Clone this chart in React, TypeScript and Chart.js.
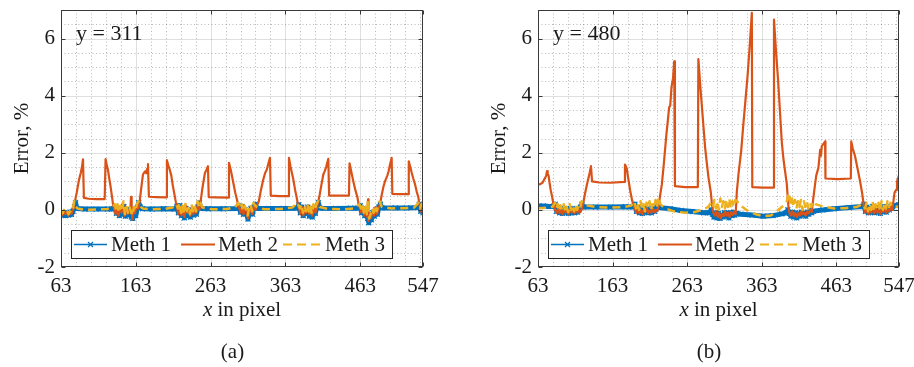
import React, { useEffect, useRef } from 'react';
import { Chart, registerables } from 'chart.js';
Chart.register(...registerables);

// ---------- axes ----------
const X_MIN = 63;
const X_MAX = 547;
const Y_MIN = -2;
const Y_MAX = 7;
const X_TICKS = [63, 163, 263, 363, 463, 547];
const Y_TICKS = [-2, 0, 2, 4, 6];
const X_MINOR = [83, 103, 123, 143, 183, 203, 223, 243, 283, 303, 323, 343, 383, 403, 423, 443, 483, 503, 523, 543];
const Y_MINOR = [-1.5, -1, -0.5, 0.5, 1, 1.5, 2.5, 3, 3.5, 4.5, 5, 5.5, 6.5];
const SERIES_NAMES = ['Meth 1', 'Meth 2', 'Meth 3'];
const COLORS = ['#0072BD', '#D95319', '#EDB120'];

// ---------- panel (a): y = 311 ----------
const A_METH1: [number, number][] = [
  [63, -0.12], [65, -0.18], [67, -0.1], [69, -0.2], [71, -0.12], [73, -0.18], [75, -0.08], [77, -0.16], [79, -0.05], [81, 0.1], [82.5, 0.25], [84, 0.05],
  [95, 0.03], [110, 0.03], [125, 0.03], [133, 0.04], [135.5, 0.1],
  [137, -0.12], [139, 0.05], [141, -0.2], [143, 0.0], [145, -0.15], [147, 0.12], [149, -0.22], [151, -0.05], [153, -0.18], [155, 0.02], [157, -0.25], [159, -0.3], [161, -0.08], [163, -0.2], [165, 0.08], [167, 0.25], [169, 0.1],
  [172, 0.04], [185, 0.03], [200, 0.04], [215, 0.03], [218, 0.12],
  [220, -0.1], [222, 0.15], [224, -0.2], [226, -0.05], [228, -0.28], [230, 0.05], [232, -0.2], [234, -0.05], [236, -0.25], [238, 0.0], [240, -0.18], [242, -0.02], [244, -0.15], [246, 0.1], [248, 0.25], [250, 0.05],
  [260, 0.04], [280, 0.04], [298, 0.05], [301, 0.15],
  [303, -0.08], [305, 0.12], [307, -0.15], [309, 0.0], [311, -0.12], [313, -0.32], [315, -0.1], [317, 0.05], [319, -0.15], [321, 0.1], [323, 0.2], [325, 0.05],
  [340, 0.05], [360, 0.05], [378, 0.06], [381, 0.18],
  [383, -0.1], [385, 0.1], [387, -0.2], [389, 0.0], [391, -0.12], [393, 0.1], [395, -0.22], [397, -0.05], [399, -0.25], [401, 0.05], [403, -0.12], [405, 0.1], [407, 0.25], [409, 0.06],
  [430, 0.05], [450, 0.06], [460, 0.06], [463, 0.15],
  [465, -0.1], [467, 0.05], [469, -0.2], [471, -0.05], [473, -0.3], [474.5, -0.45], [476, -0.2], [478, -0.35], [480, -0.1], [482, -0.22], [484, 0.0], [486, -0.15], [488, 0.1], [490, 0.2], [492, 0.07],
  [510, 0.07], [525, 0.07], [540, 0.08], [542, 0.2], [544, -0.05], [546, 0.1], [547, -0.1],
];
const A_METH2: [number, number][] = [
  [63, -0.1], [65, -0.18], [67, -0.05], [69, -0.15], [71, -0.08], [73, -0.2], [75, -0.1], [77, -0.14], [79, 0.0],
  [80.5, 0.15], [82, 0.35], [84, 0.6], [86.7, 1.0], [88, 1.15], [89.5, 1.3], [91, 1.5], [92.4, 1.77], [93.6, 0.42], [100, 0.39], [110, 0.38], [121.4, 0.38],
  [122.6, 1.78], [124, 1.6], [125.8, 1.4], [127.5, 1.1], [129.4, 0.8], [131, 0.5], [132.5, 0.2], [134, 0.05],
  [136, -0.15], [138, 0.05], [140, -0.2], [142, 0.1], [144, -0.1], [146, 0.2], [148, -0.2], [150, 0.05], [152, -0.15], [154, 0.0], [155.5, -0.1], [156.6, 0.46], [157.5, -0.05], [158.5, -0.33], [160, 0.05], [162, -0.12], [164, 0.15], [166, 0.05],
  [168.2, 0.3], [170, 0.7], [172.6, 1.24], [174, 1.3], [175.7, 1.35], [177, 1.28], [178.3, 1.45], [179.3, 1.6], [180.5, 0.46], [190, 0.45], [203.5, 0.44],
  [204.6, 1.74], [206.5, 1.55], [208.5, 1.4], [210.5, 1.2], [212.5, 0.85], [215, 0.5], [217, 0.2], [218.5, 0.05],
  [220, -0.15], [222, 0.1], [224, -0.2], [226, 0.05], [228, -0.25], [230, 0.15], [232, -0.1], [234, 0.0], [236, -0.2], [238, 0.1], [240, -0.15], [242, 0.05], [244, -0.1], [246, 0.2], [248, 0.0],
  [249.8, 0.31], [252, 0.75], [255.5, 1.3], [257.5, 1.4], [259.5, 1.53], [260.5, 0.45], [270, 0.44], [286.7, 0.43],
  [287.6, 1.65], [290, 1.4], [293.4, 0.95], [296, 0.6], [297.9, 0.4], [300, 0.15], [301.5, 0.05],
  [303, -0.1], [305, 0.1], [307, -0.15], [309, 0.05], [311, -0.05], [313, -0.3], [315, -0.1], [317, 0.1], [319, -0.15], [321, 0.15], [323, 0.0],
  [325, 0.15], [327.5, 0.3], [330, 0.65], [333.5, 1.07], [336, 1.3], [338, 1.4], [340, 1.6], [342.4, 1.82], [343.5, 0.5], [355, 0.48], [366.9, 0.48],
  [367.8, 1.82], [370, 1.5], [373.6, 1.07], [376, 0.7], [378, 0.45], [380, 0.15], [381.6, 0.05],
  [383, -0.15], [385, 0.1], [387, -0.2], [389, 0.05], [391, -0.1], [393, 0.15], [395, -0.15], [397, 0.0], [399, -0.2], [401, 0.1], [403, -0.1], [405, 0.05],
  [407, 0.3], [409, 0.55], [411, 0.85], [413.7, 1.24], [415.5, 1.35], [417.5, 1.5], [420.4, 1.79], [421.5, 0.5], [435, 0.5], [448, 0.5],
  [448.8, 1.63], [451, 1.35], [453.8, 1.0], [456.5, 0.7], [459.2, 0.45], [461, 0.2], [462.8, 0.05],
  [464.5, -0.1], [466.5, 0.1], [468.5, -0.2], [470.5, 0.05], [472.5, -0.25], [473.5, 0.37], [474.2, -0.39], [475.5, -0.1], [477.5, -0.3], [479.5, 0.0], [481.5, -0.2], [483.5, 0.1], [485.5, -0.15], [487.5, 0.05],
  [489.5, 0.2], [492, 0.55], [494, 0.8], [496.2, 1.0], [499.3, 1.2], [501, 1.35], [502.9, 1.59], [505.1, 1.82], [506, 0.56], [515, 0.55], [527.3, 0.55],
  [528, 1.7], [530, 1.5], [531.9, 1.3], [534, 1.1], [536.3, 0.9], [538.5, 0.65], [540.7, 0.45], [542.5, 0.15], [544, -0.05], [546, 0.05], [547, -0.1],
];
const A_METH3: [number, number][] = [
  [63, -0.05], [65, -0.12], [67, 0.0], [69, -0.1], [71, -0.02], [73, -0.15], [75, -0.05], [77, -0.1], [79, 0.05], [80.5, 0.3], [82, 0.15], [85, 0.05],
  [95, 0.0], [110, 0.01], [125, 0.03], [132, 0.1], [135, 0.2],
  [136.5, 0.0], [138.5, 0.2], [140.5, -0.1], [142.5, 0.15], [144.5, -0.05], [146.5, 0.3], [148.5, -0.15], [150.5, 0.1], [152.5, -0.1], [154.5, 0.1], [156.5, -0.05], [158.5, -0.2], [160.5, 0.1], [162.5, -0.05], [164.5, 0.2], [166.5, 0.3], [168, 0.15],
  [172, 0.05], [185, 0.02], [200, 0.03], [212, 0.08], [217, 0.2],
  [219.5, 0.05], [221.5, 0.25], [223.5, -0.1], [225.5, 0.15], [227.5, -0.15], [229.5, 0.25], [231.5, -0.05], [233.5, 0.1], [235.5, -0.15], [237.5, 0.2], [239.5, -0.05], [241.5, 0.15], [243.5, -0.05], [245.5, 0.3], [247.5, 0.1], [249.5, 0.25],
  [252, 0.08], [265, 0.02], [285, 0.03], [296, 0.1], [300, 0.25],
  [302.5, 0.05], [304.5, 0.2], [306.5, -0.05], [308.5, 0.15], [310.5, 0.0], [312.5, -0.2], [314.5, 0.05], [316.5, 0.2], [318.5, -0.05], [320.5, 0.25], [322.5, 0.15],
  [325, 0.1], [335, 0.02], [355, 0.03], [372, 0.08], [379, 0.25],
  [382.5, 0.05], [384.5, 0.2], [386.5, -0.1], [388.5, 0.15], [390.5, -0.05], [392.5, 0.2], [394.5, -0.1], [396.5, 0.1], [398.5, -0.15], [400.5, 0.2], [402.5, 0.0], [404.5, 0.2], [406.5, 0.3],
  [409, 0.1], [420, 0.03], [440, 0.02], [455, 0.05], [462, 0.2],
  [464, 0.05], [466, 0.2], [468, -0.1], [470, 0.1], [472, -0.15], [473.5, 0.35], [475, -0.3], [477, -0.15], [479, 0.05], [481, -0.1], [483, 0.15], [485, -0.05], [487, 0.15], [489, 0.3],
  [492, 0.1], [505, 0.05], [520, 0.06], [535, 0.08], [541, 0.25], [543, 0.05], [545, 0.2], [547, -0.05],
];

// ---------- panel (b): y = 480 ----------
const B_METH1: [number, number][] = [
  [63, 0.13], [70, 0.14], [78, 0.12], [84, 0.13], [86, 0.2],
  [88, -0.05], [90, 0.1], [92, -0.1], [94, 0.02], [96, -0.12], [98, 0.05], [100, -0.08], [102, 0.0], [104, -0.12], [106, 0.05], [108, -0.1], [110, 0.02], [112, -0.1], [114, 0.05], [116, -0.08], [118, 0.02], [120, 0.1], [122, 0.2],
  [124, 0.1], [140, 0.1], [160, 0.1], [180, 0.11], [190, 0.1], [193, 0.2],
  [195, -0.05], [197, 0.1], [199, -0.1], [201, 0.05], [203, -0.12], [205, 0.02], [207, -0.08], [209, 0.05], [211, -0.1], [213, 0.0], [215, -0.1], [217, 0.05], [219, -0.05], [221, 0.05], [223, 0.15],
  [225, 0.08], [240, 0.04], [255, -0.02], [270, -0.06], [285, -0.1], [293, -0.1], [295, 0.0],
  [297, -0.15], [299, -0.25], [301, -0.1], [303, -0.28], [305, -0.12], [307, -0.3], [309, -0.18], [311, -0.25], [313, -0.1], [315, -0.22], [317, -0.12], [319, -0.28], [321, -0.1], [323, -0.2], [325, -0.08], [327, -0.18], [329, -0.12],
  [335, -0.15], [350, -0.18], [365, -0.22], [378, -0.2], [390, -0.14], [396, -0.1], [398, 0.0],
  [400, -0.12], [402, -0.22], [404, -0.08], [406, -0.25], [408, -0.1], [410, -0.28], [412, -0.14], [414, -0.22], [416, -0.08], [418, -0.18], [420, -0.12], [422, -0.22], [424, -0.08], [426, -0.15], [428, -0.02], [430, -0.1],
  [432, -0.05], [445, 0.0], [460, 0.04], [480, 0.08], [498, 0.12], [500, 0.2],
  [502, -0.05], [504, 0.1], [506, -0.1], [508, 0.05], [510, -0.08], [512, 0.12], [514, -0.1], [516, 0.08], [518, -0.08], [520, 0.05], [522, -0.12], [524, 0.08], [526, -0.05], [528, 0.12], [530, -0.08], [532, 0.05], [534, 0.0], [536, 0.12], [538, 0.05],
  [540, 0.15], [547, 0.18],
];
const B_METH2: [number, number][] = [
  [63, 0.88], [66, 0.9], [69, 0.95], [71, 1.05], [72.8, 1.13], [74, 1.2], [75.1, 1.36], [76, 1.25], [77.2, 1.2], [78.5, 0.95], [80, 0.7], [82, 0.45], [84, 0.15], [86, 0.0],
  [88, -0.1], [90, 0.05], [92, -0.12], [94, 0.0], [96, -0.15], [98, 0.05], [100, -0.1], [102, -0.02], [104, -0.15], [106, 0.05], [108, -0.1], [110, 0.0], [112, -0.12], [114, 0.05], [116, -0.1], [118, 0.02], [120, -0.08], [122, 0.05],
  [124.1, 0.3], [126.3, 0.6], [128.6, 0.89], [130.8, 1.13], [132.3, 1.3], [134, 1.53], [135.5, 1.0], [145, 0.96], [160, 0.95], [178.8, 0.98],
  [179.6, 1.59], [182, 1.45], [184, 1.1], [186.7, 0.66], [189, 0.35], [191.1, 0.15], [193.4, 0.0],
  [195, -0.1], [197, 0.05], [199, -0.12], [201, 0.0], [203, -0.15], [205, 0.02], [207, -0.08], [209, 0.05], [211, -0.12], [213, -0.02], [215, -0.1], [217, 0.05], [219, -0.08], [221, 0.0], [223, -0.05],
  [225, 0.19], [227, 0.55], [229.1, 0.9], [232, 1.7], [235, 2.6], [238.9, 3.6], [240.3, 3.65], [242, 4.3], [244, 4.6], [245.6, 5.2], [246.6, 0.83], [260, 0.8], [277.3, 0.8],
  [278, 5.28], [281, 4.2], [284, 3.2], [287.1, 2.17], [289.5, 1.6], [291.6, 1.13], [294.8, 0.6], [296.5, 0.1],
  [298, -0.1], [300, -0.2], [302, -0.05], [304, -0.25], [306, -0.1], [308, -0.3], [310, -0.15], [312, -0.22], [314, -0.05], [316, -0.2], [318, -0.1], [320, -0.25], [322, -0.08], [324, -0.18], [326, -0.05], [328, -0.15],
  [329.6, 0.65], [332, 1.3], [335.4, 2.06], [338, 2.9], [341, 3.8], [344, 4.7], [347, 5.8], [349.7, 6.9], [350.3, 0.8], [365, 0.78], [378.6, 0.78],
  [379.4, 6.66], [382, 5.6], [385, 4.5], [387.5, 3.4], [389.9, 2.36], [392, 1.8], [394, 1.4], [396.6, 0.9], [398.4, 0.2],
  [400, -0.1], [402, -0.2], [404, -0.05], [406, -0.22], [408, -0.1], [410, -0.25], [412, -0.12], [414, -0.2], [416, -0.05], [418, -0.15], [420, -0.1], [422, -0.2], [424, -0.05], [426, -0.12], [428, 0.0], [430, -0.08],
  [432.2, 0.43], [434, 0.8], [436, 1.2], [438.9, 1.47], [440, 1.75], [441.3, 2.1], [442.4, 1.9], [443.5, 2.23], [445.5, 2.3], [447.9, 2.4], [448.4, 1.1], [465, 1.08], [482.4, 1.1],
  [483, 2.4], [485, 2.15], [488.1, 1.88], [491, 1.5], [494.8, 1.0], [497.5, 0.6], [500.5, 0.0],
  [502, -0.1], [504, 0.05], [506, -0.15], [508, 0.0], [510, -0.1], [512, 0.1], [514, -0.12], [516, 0.05], [518, -0.1], [520, 0.0], [522, -0.15], [524, 0.05], [526, -0.08], [528, 0.1], [530, -0.1], [532, 0.02], [534, -0.05], [536, 0.1], [538, 0.0],
  [539.5, 0.3], [541, 0.6], [543, 0.7], [544.3, 1.0], [547, 1.2],
];
const B_METH3: [number, number][] = [
  [63, 0.06], [70, 0.07], [78, 0.08], [83, 0.12], [86, 0.25],
  [87.5, 0.05], [89.5, 0.2], [91.5, -0.05], [93.5, 0.15], [95.5, 0.0], [97.5, 0.2], [99.5, -0.05], [101.5, 0.1], [103.5, -0.08], [105.5, 0.2], [107.5, 0.0], [109.5, 0.15], [111.5, -0.05], [113.5, 0.2], [115.5, 0.0], [117.5, 0.15], [119.5, 0.05], [121.5, 0.3],
  [124, 0.2], [130, 0.15], [140, 0.1], [160, 0.08], [178, 0.1], [188, 0.15], [192, 0.3],
  [194.5, 0.05], [196.5, 0.25], [198.5, 0.0], [200.5, 0.3], [202.5, 0.05], [204.5, 0.2], [206.5, -0.05], [208.5, 0.25], [210.5, 0.05], [212.5, 0.3], [214.5, 0.0], [216.5, 0.2], [218.5, 0.05], [220.5, 0.35], [222.5, 0.1], [224.5, 0.45],
  [227, 0.2], [233, 0.05], [245, -0.05], [260, -0.1], [272, -0.08], [283, 0.0], [291, 0.1], [295, 0.25],
  [297.5, 0.1], [299.5, 0.35], [301.5, 0.05], [303.5, 0.3], [305.5, 0.0], [307.5, 0.4], [309.5, 0.1], [311.5, 0.3], [313.5, 0.05], [315.5, 0.35], [317.5, 0.1], [319.5, 0.4], [321.5, 0.05], [323.5, 0.3], [325.5, 0.1], [327.5, 0.35],
  [330, 0.3], [336, 0.12], [345, -0.05], [355, -0.15], [365, -0.22], [375, -0.2], [383, -0.05], [390, 0.1], [396, 0.25],
  [399.5, 0.6], [401.5, 0.2], [403.5, 0.4], [405.5, 0.1], [407.5, 0.35], [409.5, 0.05], [411.5, 0.3], [413.5, 0.1], [415.5, 0.35], [417.5, 0.0], [419.5, 0.3], [421.5, 0.1], [423.5, 0.3], [425.5, 0.05], [427.5, 0.25], [429.5, 0.1], [431.5, 0.3],
  [435, 0.2], [445, 0.12], [460, 0.05], [475, 0.06], [490, 0.1], [498, 0.2],
  [501.5, 0.05], [503.5, 0.25], [505.5, -0.05], [507.5, 0.2], [509.5, 0.0], [511.5, 0.3], [513.5, -0.05], [515.5, 0.2], [517.5, 0.05], [519.5, 0.25], [521.5, -0.05], [523.5, 0.3], [525.5, 0.0], [527.5, 0.2], [529.5, 0.05], [531.5, 0.3], [533.5, 0.1], [535.5, 0.25], [537.5, 0.1],
  [540, 0.1], [547, 0.12],
];

const FONT = '"Liberation Serif", "Times New Roman", serif';
const TEXT = '#1a1a1a';
const AXIS = '#3a3a3a';
const FS = 21;

function drawCross(ctx: CanvasRenderingContext2D, cx: number, cy: number, r: number) {
  ctx.beginPath();
  ctx.moveTo(cx - r, cy - r); ctx.lineTo(cx + r, cy + r);
  ctx.moveTo(cx - r, cy + r); ctx.lineTo(cx + r, cy - r);
  ctx.stroke();
}

function makePlugin(label: string, caption: string) {
  return {
    id: 'matlabFrame',
    beforeDatasetsDraw(chart: any) {
      const { ctx, chartArea: a, scales } = chart;
      const xs = scales.x, ys = scales.y;
      ctx.save();
      ctx.lineWidth = 1;
      // minor dotted grid
      ctx.strokeStyle = 'rgba(38,38,38,0.32)';
      ctx.setLineDash([1, 2.5]);
      ctx.beginPath();
      for (const v of X_MINOR) {
        const p = Math.round(xs.getPixelForValue(v)) + 0.5;
        ctx.moveTo(p, a.top); ctx.lineTo(p, a.bottom);
      }
      for (const v of Y_MINOR) {
        const p = Math.round(ys.getPixelForValue(v)) + 0.5;
        ctx.moveTo(a.left, p); ctx.lineTo(a.right, p);
      }
      ctx.stroke();
      // major solid grid
      ctx.setLineDash([]);
      ctx.strokeStyle = 'rgba(38,38,38,0.15)';
      ctx.beginPath();
      for (const v of X_TICKS.slice(1, -1)) {
        const p = Math.round(xs.getPixelForValue(v)) + 0.5;
        ctx.moveTo(p, a.top); ctx.lineTo(p, a.bottom);
      }
      for (const v of Y_TICKS.slice(1)) {
        const p = Math.round(ys.getPixelForValue(v)) + 0.5;
        ctx.moveTo(a.left, p); ctx.lineTo(a.right, p);
      }
      ctx.stroke();
      ctx.restore();
    },
    afterDatasetsDraw(chart: any) {
      const { ctx, chartArea: a, scales } = chart;
      const xs = scales.x, ys = scales.y;
      ctx.save();
      ctx.setLineDash([]);
      // box
      ctx.strokeStyle = AXIS;
      ctx.lineWidth = 1;
      const L = Math.round(a.left) + 0.5, R = Math.round(a.right) - 0.5;
      const T = Math.round(a.top) + 0.5, B = Math.round(a.bottom) - 0.5;
      ctx.strokeRect(L, T, R - L, B - T);
      // inward ticks
      const tl = 4;
      ctx.beginPath();
      for (const v of X_TICKS) {
        const p = Math.round(xs.getPixelForValue(v)) + 0.5;
        ctx.moveTo(p, B); ctx.lineTo(p, B - tl);
        ctx.moveTo(p, T); ctx.lineTo(p, T + tl);
      }
      for (const v of Y_TICKS) {
        const p = Math.round(ys.getPixelForValue(v)) + 0.5;
        ctx.moveTo(L, p); ctx.lineTo(L + tl, p);
        ctx.moveTo(R, p); ctx.lineTo(R - tl, p);
      }
      ctx.stroke();

      // annotation text
      ctx.fillStyle = TEXT;
      ctx.font = `${FS + 1}px ${FONT}`;
      ctx.textAlign = 'left';
      ctx.textBaseline = 'alphabetic';
      ctx.fillText(label, a.left + 15, a.top + 30);

      // legend
      const bx = Math.round(a.left) + 10, by = Math.round(a.top) + 220, bw = 321, bh = 28;
      ctx.fillStyle = '#ffffff';
      ctx.fillRect(bx, by, bw, bh);
      ctx.strokeStyle = '#262626';
      ctx.lineWidth = 1;
      ctx.strokeRect(bx + 0.5, by + 0.5, bw, bh);
      const cy = by + 14.5;
      const entries = [
        { x0: 3, x1: 36, tx: 40 },
        { x0: 110, x1: 144, tx: 147 },
        { x0: 212, x1: 251, tx: 254 },
      ];
      entries.forEach((e, i) => {
        ctx.strokeStyle = COLORS[i];
        ctx.lineWidth = i === 0 ? 1.5 : 2.2;
        ctx.setLineDash(i === 2 ? [9, 5] : []);
        ctx.beginPath();
        ctx.moveTo(bx + e.x0, cy); ctx.lineTo(bx + e.x1, cy);
        ctx.stroke();
        ctx.setLineDash([]);
        if (i === 0) {
          ctx.lineWidth = 1.2;
          drawCross(ctx, bx + (e.x0 + e.x1) / 2, cy, 2.5);
        }
        ctx.fillStyle = TEXT;
        ctx.font = `${FS}px ${FONT}`;
        ctx.fillText(SERIES_NAMES[i], bx + e.tx, by + 21);
      });
      ctx.restore();
    },
    afterDraw(chart: any) {
      const { ctx, chartArea: a } = chart;
      ctx.save();
      ctx.fillStyle = TEXT;
      // x axis title: italic x + " in pixel"
      const cx = (a.left + a.right) / 2;
      ctx.font = `italic ${FS}px ${FONT}`;
      const w1 = ctx.measureText('x').width;
      ctx.font = `${FS}px ${FONT}`;
      const w2 = ctx.measureText(' in pixel').width;
      const sx = cx - (w1 + w2) / 2;
      ctx.textAlign = 'left';
      ctx.textBaseline = 'alphabetic';
      ctx.font = `italic ${FS}px ${FONT}`;
      ctx.fillText('x', sx, a.bottom + 49);
      ctx.font = `${FS}px ${FONT}`;
      ctx.fillText(' in pixel', sx + w1, a.bottom + 49);
      // y axis title
      ctx.save();
      ctx.translate(a.left - 33, (a.top + a.bottom) / 2);
      ctx.rotate(-Math.PI / 2);
      ctx.textAlign = 'center';
      ctx.fillText('Error, %', 0, 0);
      ctx.restore();
      // caption
      ctx.textAlign = 'center';
      ctx.textBaseline = 'middle';
      ctx.fillText(caption, cx - 9.5, 352);
      ctx.restore();
    },
  };
}

function Panel(props: { m1: [number, number][]; m2: [number, number][]; m3: [number, number][]; label: string; caption: string; padLeft: number; padRight: number; left: number }) {
  const ref = useRef<HTMLCanvasElement>(null);
  useEffect(() => {
    const toPts = (arr: [number, number][]) => arr.map(([x, y]) => ({ x, y }));
    const chart = new Chart(ref.current as HTMLCanvasElement, {
      type: 'line',
      data: {
        datasets: [
          {
            label: SERIES_NAMES[0],
            data: toPts(props.m1),
            borderColor: COLORS[0],
            backgroundColor: COLORS[0],
            borderWidth: 5,
            borderJoinStyle: 'round',
            pointStyle: 'crossRot',
            pointRadius: 3.5,
            pointBorderWidth: 1.2,
            pointBorderColor: COLORS[0],
            pointBackgroundColor: COLORS[0],
            tension: 0,
            order: 3,
          },
          {
            label: SERIES_NAMES[1],
            data: toPts(props.m2),
            borderColor: COLORS[1],
            backgroundColor: COLORS[1],
            borderWidth: 2.2,
            borderJoinStyle: 'round',
            pointRadius: 0,
            tension: 0,
            order: 2,
          },
          {
            label: SERIES_NAMES[2],
            data: toPts(props.m3),
            borderColor: COLORS[2],
            backgroundColor: COLORS[2],
            borderWidth: 2.5,
            borderDash: [8, 5],
            borderJoinStyle: 'round',
            pointRadius: 0,
            tension: 0,
            order: 1,
          },
        ],
      } as any,
      options: {
        animation: false,
        responsive: false,
        maintainAspectRatio: false,
        events: [],
        layout: { padding: { left: props.padLeft, right: props.padRight, top: 10, bottom: 70 } },
        plugins: { legend: { display: false }, tooltip: { enabled: false }, title: { display: false } },
        scales: {
          x: {
            type: 'linear',
            min: X_MIN,
            max: X_MAX,
            afterBuildTicks: (s: any) => { s.ticks = X_TICKS.map((v) => ({ value: v })); },
            afterFit: (s: any) => { s.height = 30; s.paddingLeft = 0; s.paddingRight = 0; s.paddingTop = 0; s.paddingBottom = 0; },
            grid: { display: false, drawTicks: false },
            border: { display: false },
            ticks: { font: { family: FONT, size: FS }, color: TEXT, padding: 7, maxRotation: 0, autoSkip: false, callback: (v: any) => String(v) },
          },
          y: {
            type: 'linear',
            min: Y_MIN,
            max: Y_MAX,
            afterBuildTicks: (s: any) => { s.ticks = Y_TICKS.map((v) => ({ value: v })); },
            afterFit: (s: any) => { s.width = 30; s.paddingLeft = 0; s.paddingRight = 0; s.paddingTop = 0; s.paddingBottom = 0; },
            grid: { display: false, drawTicks: false },
            border: { display: false },
            ticks: { font: { family: FONT, size: FS }, color: TEXT, padding: 6, autoSkip: false, callback: (v: any) => String(v) },
          },
        },
      } as any,
      plugins: [makePlugin(props.label, props.caption)],
    });
    return () => chart.destroy();
  }, []);
  return (
    <canvas
      ref={ref}
      width={457}
      height={367}
      style={{ position: 'absolute', left: props.left, top: 0, width: 457, height: 367, display: 'block' }}
    />
  );
}

export default function App() {
  return (
    <div style={{ position: 'absolute', left: 0, top: 0, width: 914, height: 367, background: '#ffffff', overflow: 'hidden' }}>
      <Panel m1={A_METH1} m2={A_METH2} m3={A_METH3} label="y = 311" caption="(a)" padLeft={31} padRight={34} left={0} />
      <Panel m1={B_METH1} m2={B_METH2} m3={B_METH3} label="y = 480" caption="(b)" padLeft={51} padRight={15} left={457} />
    </div>
  );
}
